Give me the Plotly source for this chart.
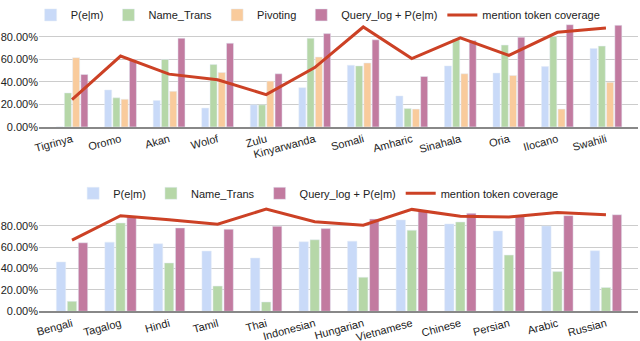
import plotly.graph_objects as go
from plotly.subplots import make_subplots

# ---- top chart data ----
top_langs = ["Tigrinya", "Oromo", "Akan", "Wolof", "Zulu", "Kinyarwanda", "Somali",
             "Amharic", "Sinahala", "Oria", "Ilocano", "Swahili"]
top_pem = [0.0, 0.328, 0.234, 0.167, 0.196, 0.349, 0.548, 0.275, 0.542, 0.478, 0.536, 0.697]
top_name_trans = [0.302, 0.258, 0.600, 0.554, 0.196, 0.788, 0.542, 0.164, 0.782, 0.727, 0.803, 0.718]
top_pivoting = [0.615, 0.246, 0.316, 0.484, 0.407, 0.621, 0.568, 0.158, 0.472, 0.457, 0.158, 0.396]
top_query = [0.466, 0.600, 0.788, 0.744, 0.472, 0.829, 0.774, 0.448, 0.768, 0.797, 0.908, 0.903]
top_cov = [0.243, 0.630, 0.469, 0.419, 0.287, 0.527, 0.888, 0.607, 0.791, 0.636, 0.841, 0.879]

# ---- bottom chart data ----
bot_langs = ["Bengali", "Tagalog", "Hindi", "Tamil", "Thai", "Indonesian", "Hungarian",
             "Vietnamese", "Chinese", "Persian", "Arabic", "Russian"]
bot_pem = [0.462, 0.648, 0.633, 0.564, 0.499, 0.651, 0.657, 0.856, 0.819, 0.753, 0.800, 0.567]
bot_name_trans = [0.093, 0.828, 0.453, 0.236, 0.087, 0.670, 0.319, 0.760, 0.837, 0.527, 0.372, 0.223]
bot_query = [0.642, 0.887, 0.781, 0.769, 0.797, 0.775, 0.865, 0.946, 0.918, 0.890, 0.896, 0.905]
bot_cov = [0.667, 0.896, 0.859, 0.816, 0.958, 0.840, 0.806, 0.955, 0.891, 0.884, 0.927, 0.905]

C_BLUE = "#c9daf8"
C_GREEN = "#b6d7a8"
C_ORANGE = "#f9cb9c"
C_PURPLE = "#c27ba0"
C_RED = "#cc4125"

fig = make_subplots(rows=2, cols=1)

# top traces
fig.add_trace(go.Bar(x=top_langs, y=top_pem, name="P(e|m)", marker_color=C_BLUE, legend="legend"), row=1, col=1)
fig.add_trace(go.Bar(x=top_langs, y=top_name_trans, name="Name_Trans", marker_color=C_GREEN, legend="legend"), row=1, col=1)
fig.add_trace(go.Bar(x=top_langs, y=top_pivoting, name="Pivoting", marker_color=C_ORANGE, legend="legend"), row=1, col=1)
fig.add_trace(go.Bar(x=top_langs, y=top_query, name="Query_log + P(e|m)", marker_color=C_PURPLE, legend="legend"), row=1, col=1)
fig.add_trace(go.Scatter(x=top_langs, y=top_cov, name="mention token coverage", mode="lines",
                         line=dict(color=C_RED, width=3), legend="legend"), row=1, col=1)

# bottom traces
fig.add_trace(go.Bar(x=bot_langs, y=bot_pem, name="P(e|m)", marker_color=C_BLUE, legend="legend2"), row=2, col=1)
fig.add_trace(go.Bar(x=bot_langs, y=bot_name_trans, name="Name_Trans", marker_color=C_GREEN, legend="legend2"), row=2, col=1)
fig.add_trace(go.Bar(x=bot_langs, y=bot_query, name="Query_log + P(e|m)", marker_color=C_PURPLE, legend="legend2"), row=2, col=1)
fig.add_trace(go.Scatter(x=bot_langs, y=bot_cov, name="mention token coverage", mode="lines",
                         line=dict(color=C_RED, width=3), legend="legend2"), row=2, col=1)

font = dict(family="Liberation Sans, Arial, sans-serif", size=11, color="#222")
legend_common = dict(orientation="h", xref="paper", x=0.466, xanchor="center",
                     yref="paper", yanchor="middle", font=dict(size=11, color="#222"),
                     bgcolor="rgba(0,0,0,0)", itemwidth=30, tracegroupgap=0)

fig.update_layout(
    width=640, height=341,
    margin=dict(l=39, r=2, t=0, b=0),
    paper_bgcolor="white", plot_bgcolor="white",
    font=font,
    barmode="group", bargap=0.32, bargroupgap=0.15,
    legend=dict(y=1 - 12 / 341, **legend_common),
    legend2=dict(y=1 - 192 / 341, **legend_common),
)

xax = dict(range=[-0.68, 11.66], tickangle=-15, showgrid=False, showline=True,
           linecolor="#888", linewidth=2, ticks="", automargin=False,
           tickfont=dict(size=11, color="#222"))
fig.update_xaxes(**xax)
fig.update_xaxes(domain=[0, 1])

yax = dict(tickvals=[0, 0.2, 0.4, 0.6, 0.8], tickformat=".2%", showgrid=True,
           gridcolor="#cccccc", gridwidth=1, zeroline=False, automargin=False,
           ticks="", tickfont=dict(size=11, color="#222"))
fig.update_yaxes(**yax)
fig.update_yaxes(range=[0, 0.925], domain=[(341 - 125) / 341, (341 - 20) / 341], row=1, col=1)
fig.update_yaxes(range=[0, 0.985], domain=[(341 - 311) / 341, (341 - 205) / 341], row=2, col=1)

fig.write_html("out.html", config={"displayModeBar": False},
               post_script="document.body.style.margin='0';")
